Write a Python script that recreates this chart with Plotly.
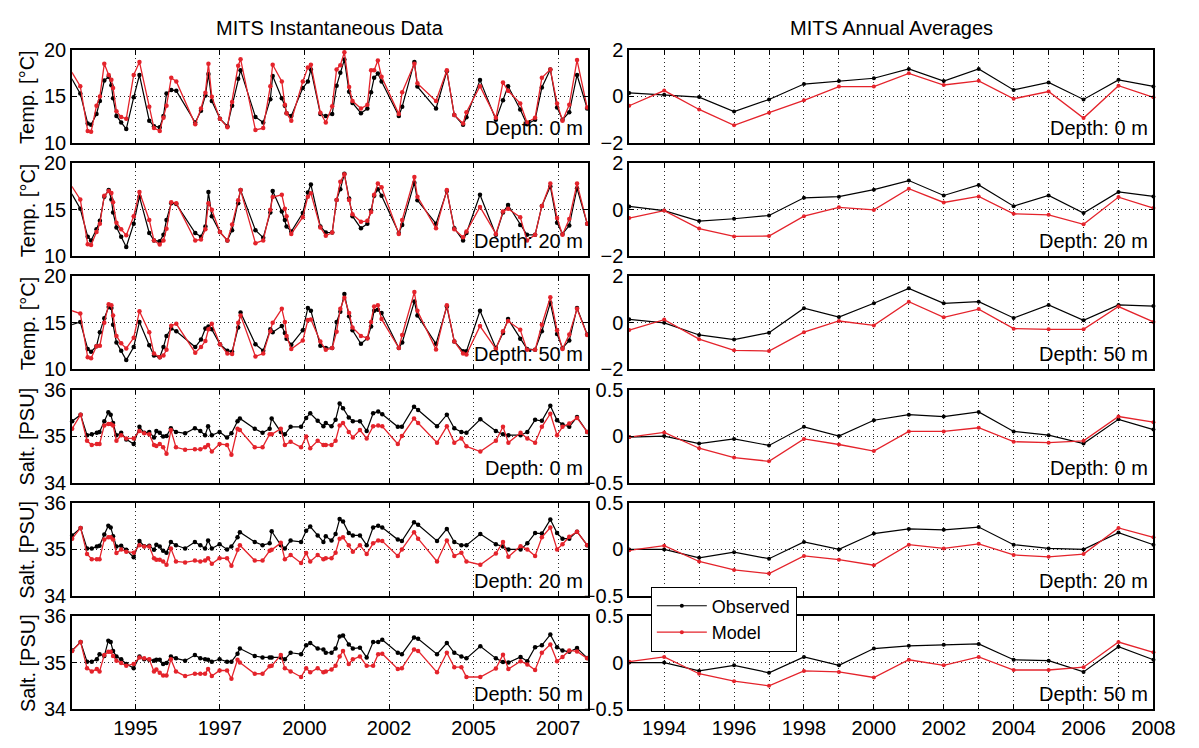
import plotly.graph_objects as go

# ---------------- instantaneous data: temperature ----------------
T_TIME = [1993.12, 1993.37, 1993.59, 1993.69, 1993.85, 1993.95, 1994.08, 1994.21, 1994.29, 1994.34,
          1994.44, 1994.58, 1994.73, 1994.95, 1995.12, 1995.41, 1995.55, 1995.72, 1995.83, 1995.92,
          1996.06, 1996.21, 1996.77, 1996.94, 1997.07, 1997.16, 1997.26, 1997.50, 1997.72, 1997.86,
          1998.04, 1998.11, 1998.55, 1998.78, 1998.99, 1999.06, 1999.33, 1999.42, 1999.47, 1999.61,
          1999.95, 2000.10, 2000.19, 2000.47, 2000.63, 2000.82, 2000.95, 2001.06, 2001.18, 2001.32,
          2001.42, 2001.67, 2001.86, 2001.97, 2002.06, 2002.17, 2002.28, 2002.79, 2002.89, 2003.25,
          2003.34, 2003.89, 2004.21, 2004.43, 2004.69, 2004.79, 2005.19, 2005.66, 2005.87, 2006.02,
          2006.38, 2006.58, 2006.82, 2007.02, 2007.27, 2007.47, 2007.63, 2007.83, 2008.06, 2008.36]

T0_OBS = [16.9, 15.3, 12.1, 11.95, 13.1, 14.5, 16.7, 17.1, 16.2, 14.8,
          12.9, 12.2, 11.5, 14.9, 17.3, 12.4, 11.8, 11.7, 12.9, 15.3,
          15.7, 15.6, 12.2, 13.45, 15.1, 17.4, 14.5, 12.6, 11.8, 14.0,
          16.9, 17.8, 12.8, 12.2, 14.7, 17.2, 14.8, 14.0, 13.2, 12.9,
          15.9, 16.6, 17.9, 13.1, 12.9, 13.1, 16.15, 17.55, 18.95, 15.5,
          14.3, 13.2, 13.7, 15.45, 17.0, 17.45, 16.6, 12.9, 13.9, 18.7,
          16.05, 13.7, 17.7, 13.0, 11.95, 12.75, 16.75, 12.5, 14.6, 16.1,
          13.6, 12.0, 12.5, 15.95, 17.9, 13.8, 12.5, 13.3, 17.3, 13.7]
T0_MOD = [17.6, 16.1, 11.3, 11.2, 14.0, 15.0, 18.5, 17.3, 16.8, 15.9,
          13.4, 12.8, 12.6, 17.3, 18.7, 13.9, 11.6, 11.3, 12.7, 14.0,
          17.0, 16.6, 12.0, 13.7, 15.4, 18.5, 14.95, 12.6, 11.7, 14.4,
          18.3, 19.0, 11.4, 11.6, 16.1, 18.4, 16.6, 14.1, 13.2, 12.4,
          16.6, 18.1, 18.4, 13.25, 12.2, 13.95, 17.9, 18.35, 19.75, 16.0,
          14.5, 13.7, 14.1, 17.8, 17.8, 18.85, 17.1, 13.1, 15.45, 18.5,
          16.4, 14.5, 17.8, 13.0, 12.1, 13.3, 16.1, 12.7, 16.5, 15.6,
          14.25, 12.2, 12.7, 17.0, 17.9, 14.25, 12.4, 14.1, 18.9, 13.8]

T20_OBS = [16.7, 15.1, 12.1, 11.7, 12.9, 13.8, 16.4, 17.1, 16.1, 14.7,
           13.1, 12.1, 11.0, 13.5, 16.4, 12.5, 11.7, 11.6, 12.3, 13.9,
           15.7, 15.6, 12.5, 12.1, 13.2, 16.9, 14.3, 12.6, 11.7, 12.8,
           15.7, 17.1, 12.8, 12.0, 14.7, 17.0, 14.8, 13.9, 13.2, 12.65,
           14.65, 16.85, 17.7, 13.2, 12.55, 12.55, 16.05, 17.2, 18.85, 16.2,
           14.3, 13.0, 13.5, 14.9, 16.5, 17.2, 16.5, 12.5, 13.35, 17.9,
           16.0, 13.5, 17.0, 13.0, 11.7, 12.5, 16.6, 12.3, 14.7, 15.5,
           13.35, 12.3, 12.3, 15.4, 17.5, 13.6, 12.4, 13.3, 17.3, 13.5]
T20_MOD = [17.5, 16.1, 11.3, 11.2, 12.6, 13.5, 16.5, 17.0, 16.8, 15.8,
           13.6, 12.9, 12.25, 14.3, 16.9, 13.9, 11.7, 11.25, 11.7, 12.95,
           15.8, 15.7, 11.7, 11.8, 12.9, 15.7, 15.0, 12.6, 11.7, 13.4,
           16.0, 17.1, 11.4, 11.7, 15.0, 16.35, 16.6, 15.1, 14.3, 12.4,
           14.2, 16.4, 16.75, 13.1, 12.2, 12.55, 16.05, 18.0, 18.8, 16.05,
           14.5, 13.7, 13.8, 14.75, 16.6, 17.8, 17.4, 12.4, 13.9, 18.5,
           16.4, 13.0, 17.1, 12.9, 12.05, 12.65, 15.3, 12.4, 14.8, 15.1,
           14.2, 11.7, 12.3, 15.4, 17.8, 14.1, 12.3, 14.0, 17.8, 13.5]

T50_OBS = [14.8, 15.1, 12.2, 11.9, 12.5, 14.0, 15.5, 16.7, 16.6, 14.8,
           12.9, 12.0, 11.0, 12.4, 15.1, 12.6, 11.5, 11.3, 12.4, 13.6,
           14.4, 14.1, 12.4, 13.2, 14.4, 14.6, 14.3, 12.7, 12.0, 11.9,
           14.5, 16.1, 12.7, 12.0, 14.3, 14.0, 14.65, 13.9, 13.3, 12.65,
           14.2, 16.6, 16.3, 12.55, 12.3, 12.3, 15.1, 16.2, 18.1, 15.7,
           14.2, 12.75, 13.35, 14.6, 16.3, 16.4, 16.05, 12.3, 12.9, 17.3,
           15.8, 12.75, 16.75, 13.0, 11.95, 11.95, 16.3, 12.3, 13.9, 15.4,
           13.3, 12.2, 12.1, 14.1, 17.15, 13.8, 12.3, 13.1, 16.6, 13.75]
T50_MOD = [16.3, 16.0, 11.3, 11.2, 12.5, 12.55, 15.0, 17.0, 16.9, 15.8,
           13.6, 12.8, 12.25, 13.4, 16.25, 14.0, 11.7, 11.3, 11.5, 12.1,
           14.7, 14.9, 11.8, 12.4, 13.05, 14.3, 14.9, 12.7, 11.7, 11.65,
           15.0, 15.8, 11.4, 11.7, 14.1, 15.0, 16.5, 15.1, 13.6, 12.2,
           13.1, 15.3, 15.35, 13.0, 12.1, 12.3, 14.05, 16.5, 17.7, 16.05,
           14.5, 13.6, 13.35, 15.1, 16.75, 16.9, 15.4, 12.3, 13.7, 18.3,
           16.3, 12.15, 16.9, 13.0, 11.7, 11.6, 14.65, 12.2, 14.1, 15.2,
           14.25, 12.1, 12.1, 14.8, 17.75, 14.2, 12.2, 13.75, 16.5, 13.7]

# ---------------- instantaneous data: salinity ----------------
S_TIME = [1993.13, 1993.38, 1993.57, 1993.71, 1993.86, 1993.94, 1994.08, 1994.20, 1994.27, 1994.34,
          1994.44, 1994.58, 1994.73, 1994.95, 1995.12, 1995.26, 1995.41, 1995.55, 1995.62, 1995.72,
          1995.82, 1995.92, 1996.05, 1996.20, 1996.47, 1996.76, 1996.92, 1997.06, 1997.15, 1997.26,
          1997.49, 1997.71, 1997.84, 1998.02, 1998.09, 1998.53, 1998.76, 1998.97, 1999.03, 1999.30,
          1999.42, 1999.59, 1999.90, 2000.05, 2000.17, 2000.39, 2000.56, 2000.63, 2000.80, 2000.92,
          2001.04, 2001.14, 2001.31, 2001.43, 2001.64, 2001.84, 2002.03, 2002.18, 2002.30, 2002.76,
          2002.88, 2003.24, 2003.36, 2003.92, 2004.21, 2004.43, 2004.64, 2004.79, 2005.20, 2005.66,
          2005.87, 2006.03, 2006.39, 2006.59, 2006.82, 2007.02, 2007.27, 2007.47, 2007.63, 2007.83,
          2008.06, 2008.36]

S0_OBS = [35.32, 35.46, 35.02, 35.04, 35.07, 35.09, 35.32, 35.51, 35.46, 35.28,
          35.02, 35.07, 34.93, 34.83, 35.20, 35.07, 35.09, 34.97, 35.11, 35.07,
          34.99, 35.00, 35.17, 35.09, 35.06, 35.17, 35.11, 35.02, 35.21, 35.02,
          35.09, 34.97, 35.06, 35.32, 35.38, 35.16, 35.07, 35.16, 35.38, 35.09,
          35.04, 35.20, 35.20, 35.39, 35.49, 35.33, 35.21, 35.28, 35.21, 35.35,
          35.70, 35.60, 35.40, 35.32, 35.32, 35.11, 35.49, 35.53, 35.47, 35.20,
          35.20, 35.63, 35.56, 35.21, 35.46, 35.17, 35.09, 35.07, 35.36, 35.11,
          35.04, 35.02, 35.02, 35.09, 35.35, 35.33, 35.65, 35.34, 35.25, 35.20,
          35.41, 35.09]
S0_MOD = [35.16, 35.46, 34.90, 34.81, 34.83, 34.83, 35.23, 35.26, 35.26, 35.23,
          34.90, 35.02, 34.95, 34.95, 35.11, 35.06, 35.04, 34.81, 34.79, 34.83,
          34.76, 34.62, 35.13, 34.76, 34.71, 34.72, 34.72, 34.76, 34.81, 34.67,
          34.83, 34.81, 34.60, 35.16, 35.13, 34.76, 34.76, 35.04, 35.04, 35.16,
          34.81, 34.88, 34.76, 34.99, 34.74, 34.90, 34.81, 34.81, 34.81, 34.90,
          35.23, 35.28, 35.09, 34.97, 35.13, 34.95, 35.21, 35.23, 35.21, 34.83,
          35.00, 35.38, 35.28, 34.86, 35.21, 34.86, 34.95, 34.78, 34.67, 34.90,
          35.20, 34.86, 35.07, 34.95, 34.86, 35.20, 35.48, 35.02, 35.20, 35.27,
          35.39, 35.09]

S20_OBS = [35.30, 35.46, 35.02, 35.02, 35.06, 35.08, 35.32, 35.51, 35.47, 35.28,
           35.06, 35.08, 34.99, 34.83, 35.18, 35.07, 35.08, 34.99, 35.10, 35.06,
           34.97, 34.93, 35.16, 35.09, 35.02, 35.16, 35.09, 35.02, 35.19, 35.02,
           35.11, 35.00, 35.06, 35.26, 35.37, 35.16, 35.09, 35.13, 35.39, 35.09,
           35.02, 35.19, 35.16, 35.40, 35.49, 35.30, 35.16, 35.28, 35.19, 35.33,
           35.65, 35.60, 35.35, 35.30, 35.30, 35.09, 35.47, 35.51, 35.47, 35.21,
           35.18, 35.58, 35.53, 35.18, 35.44, 35.16, 35.09, 35.09, 35.33, 35.11,
           35.06, 35.00, 35.00, 35.13, 35.35, 35.34, 35.64, 35.35, 35.23, 35.23,
           35.38, 35.09]
S20_MOD = [35.23, 35.46, 34.90, 34.79, 34.79, 34.79, 35.21, 35.26, 35.26, 35.21,
           34.92, 35.00, 34.95, 34.93, 35.09, 35.06, 35.06, 34.81, 34.78, 34.78,
           34.74, 34.67, 35.02, 34.74, 34.72, 34.76, 34.74, 34.76, 34.81, 34.69,
           34.81, 34.81, 34.65, 34.99, 35.09, 34.76, 34.76, 34.97, 34.99, 35.14,
           34.79, 34.88, 34.71, 34.92, 34.74, 34.88, 34.79, 34.81, 34.81, 34.93,
           35.23, 35.26, 35.09, 34.95, 35.09, 34.90, 35.13, 35.19, 35.18, 34.86,
           35.00, 35.37, 35.23, 34.74, 35.19, 34.86, 34.93, 34.74, 34.67, 34.91,
           35.16, 34.84, 35.07, 35.00, 34.86, 35.26, 35.47, 35.00, 35.11, 35.27,
           35.38, 35.09]

S50_OBS = [35.26, 35.44, 35.02, 35.02, 35.07, 35.18, 35.14, 35.47, 35.44, 35.25,
           35.13, 35.07, 34.97, 34.88, 35.13, 35.07, 35.06, 35.04, 35.06, 35.06,
           34.97, 34.99, 35.13, 35.09, 35.04, 35.16, 35.09, 35.07, 35.06, 35.02,
           35.07, 35.02, 35.02, 35.19, 35.30, 35.14, 35.11, 35.11, 35.11, 35.11,
           35.07, 35.21, 35.18, 35.37, 35.42, 35.30, 35.28, 35.21, 35.21, 35.30,
           35.56, 35.58, 35.39, 35.30, 35.32, 35.11, 35.44, 35.44, 35.49, 35.21,
           35.18, 35.54, 35.51, 35.18, 35.42, 35.21, 35.13, 35.09, 35.35, 35.09,
           35.01, 35.00, 35.12, 35.03, 35.33, 35.37, 35.60, 35.33, 35.26, 35.23,
           35.31, 35.10]
S50_MOD = [35.25, 35.44, 34.88, 34.81, 34.86, 34.81, 35.16, 35.23, 35.23, 35.14,
           35.04, 34.99, 34.93, 34.97, 35.11, 35.09, 35.07, 34.81, 34.85, 34.78,
           34.72, 34.72, 35.07, 34.81, 34.71, 34.76, 34.76, 34.76, 34.86, 34.71,
           34.83, 34.83, 34.65, 35.06, 35.00, 34.76, 34.76, 34.92, 34.93, 35.16,
           34.88, 34.81, 34.69, 34.88, 34.79, 34.88, 34.79, 34.81, 34.85, 34.93,
           35.13, 35.25, 34.97, 35.07, 35.13, 34.93, 34.93, 35.18, 35.19, 34.86,
           34.88, 35.28, 35.25, 34.79, 35.21, 34.90, 34.90, 34.69, 34.69, 34.87,
           35.17, 34.86, 35.03, 34.96, 34.84, 35.21, 35.39, 35.03, 35.12, 35.26,
           35.24, 35.09]

# ---------------- annual average anomalies ----------------
YEARS = list(range(1993, 2009))
AT0_OBS = [0.15, 0.07, -0.03, -0.65, -0.13, 0.53, 0.66, 0.78, 1.18, 0.66, 1.18, 0.28, 0.60, -0.13, 0.71, 0.43]
AT0_MOD = [-0.40, 0.25, -0.56, -1.24, -0.70, -0.17, 0.42, 0.42, 0.99, 0.49, 0.67, -0.10, 0.21, -0.93, 0.46, -0.04]
AT20_OBS = [0.14, -0.04, -0.49, -0.39, -0.25, 0.51, 0.56, 0.86, 1.25, 0.61, 1.06, 0.15, 0.61, -0.14, 0.76, 0.57]
AT20_MOD = [-0.36, -0.04, -0.81, -1.15, -1.13, -0.28, 0.10, -0.01, 0.90, 0.31, 0.57, -0.18, -0.22, -0.63, 0.54, 0.07]
AT50_OBS = [0.15, 0.00, -0.52, -0.72, -0.42, 0.63, 0.25, 0.84, 1.48, 0.84, 0.91, 0.21, 0.77, 0.11, 0.77, 0.72]
AT50_MOD = [-0.31, 0.14, -0.70, -1.18, -1.21, -0.40, 0.08, -0.11, 0.91, 0.24, 0.59, -0.25, -0.28, -0.28, 0.70, 0.04]
AS0_OBS = [-0.01, 0.00, -0.08, -0.03, -0.10, 0.10, 0.00, 0.17, 0.23, 0.21, 0.26, 0.05, 0.01, -0.08, 0.18, 0.07]
AS0_MOD = [-0.01, 0.04, -0.13, -0.23, -0.27, -0.03, -0.09, -0.16, 0.05, 0.05, 0.09, -0.06, -0.07, -0.05, 0.21, 0.15]
AS20_OBS = [0.00, 0.00, -0.09, -0.03, -0.10, 0.08, 0.00, 0.17, 0.22, 0.21, 0.24, 0.05, 0.01, 0.00, 0.18, 0.05]
AS20_MOD = [-0.01, 0.04, -0.13, -0.22, -0.26, -0.07, -0.11, -0.17, 0.05, 0.01, 0.06, -0.06, -0.08, -0.05, 0.23, 0.13]
AS50_OBS = [0.00, 0.00, -0.09, -0.03, -0.11, 0.06, -0.03, 0.15, 0.18, 0.19, 0.20, 0.03, 0.02, -0.10, 0.17, 0.03]
AS50_MOD = [0.01, 0.06, -0.12, -0.20, -0.25, -0.09, -0.10, -0.16, 0.03, -0.03, 0.06, -0.08, -0.08, -0.05, 0.22, 0.11]

# ---------------- axis labels ----------------
LEFT_TICKS = [1995, 1997.5, 2000, 2002.5, 2005, 2007.5]
LEFT_TICKTEXT = ["1995", "1997", "2000", "2002", "2005", "2007"]
DEPTHS = ["Depth: 0 m", "Depth: 20 m", "Depth: 50 m"]

# ---------------- layout geometry (pixels) ----------------
W, H = 1199, 748
LEFT_PX = (73.5, 598.5)
RIGHT_PX = (641.0, 1175.0)
ROW_TOP = [40.0, 156.7, 273.3, 390.0, 506.7, 623.3]
ROW_H = 96.0

BLACK = "#000000"
RED = "#e4232b"
FONT = "Liberation Sans, Arial, Helvetica, sans-serif"
FS = 20

rows = [
    dict(lt=T_TIME, lo=T0_OBS, lm=T0_MOD, ro=AT0_OBS, rm=AT0_MOD, ylab="Temp. [°C]",
         lr=[10, 20], lt_v=[10, 15, 20], rr=[-2, 2], rt_v=[-2, 0, 2], d=DEPTHS[0]),
    dict(lt=T_TIME, lo=T20_OBS, lm=T20_MOD, ro=AT20_OBS, rm=AT20_MOD, ylab="Temp. [°C]",
         lr=[10, 20], lt_v=[10, 15, 20], rr=[-2, 2], rt_v=[-2, 0, 2], d=DEPTHS[1]),
    dict(lt=T_TIME, lo=T50_OBS, lm=T50_MOD, ro=AT50_OBS, rm=AT50_MOD, ylab="Temp. [°C]",
         lr=[10, 20], lt_v=[10, 15, 20], rr=[-2, 2], rt_v=[-2, 0, 2], d=DEPTHS[2]),
    dict(lt=S_TIME, lo=S0_OBS, lm=S0_MOD, ro=AS0_OBS, rm=AS0_MOD, ylab="Salt. [PSU]",
         lr=[34, 36], lt_v=[34, 35, 36], rr=[-0.5, 0.5], rt_v=[-0.5, 0, 0.5], d=DEPTHS[0]),
    dict(lt=S_TIME, lo=S20_OBS, lm=S20_MOD, ro=AS20_OBS, rm=AS20_MOD, ylab="Salt. [PSU]",
         lr=[34, 36], lt_v=[34, 35, 36], rr=[-0.5, 0.5], rt_v=[-0.5, 0, 0.5], d=DEPTHS[1]),
    dict(lt=S_TIME, lo=S50_OBS, lm=S50_MOD, ro=AS50_OBS, rm=AS50_MOD, ylab="Salt. [PSU]",
         lr=[34, 36], lt_v=[34, 35, 36], rr=[-0.5, 0.5], rt_v=[-0.5, 0, 0.5], d=DEPTHS[2]),
]


def xdom(px):
    return [px[0] / W, px[1] / W]


def ydom(r):
    return [1 - (ROW_TOP[r] + ROW_H) / H, 1 - ROW_TOP[r] / H]


common_axis = dict(
    showline=True, linecolor=BLACK, linewidth=1.8, mirror="ticks",
    ticks="inside", ticklen=5, tickwidth=1, tickcolor=BLACK,
    showgrid=True, gridcolor="#2a2a2a", gridwidth=1, griddash="1px,3px",
    zeroline=False, tickfont=dict(family=FONT, size=FS, color=BLACK),
)

fig = go.Figure()
layout = {}
annotations = []

for r, row in enumerate(rows):
    for c in range(2):
        n = 2 * r + c + 1
        xa = "x" if n == 1 else f"x{n}"
        ya = "y" if n == 1 else f"y{n}"
        if c == 0:
            xs, obs, mod = row["lt"], row["lo"], row["lm"]
            msize = 4.5
        else:
            xs, obs, mod = YEARS, row["ro"], row["rm"]
            msize = 4
        legend_here = (r == 4 and c == 1)
        fig.add_trace(go.Scatter(
            x=xs, y=obs, xaxis=xa, yaxis=ya, mode="lines+markers", name="Observed",
            line=dict(color=BLACK, width=1.2), marker=dict(color=BLACK, size=msize),
            showlegend=legend_here, legendgroup="obs", cliponaxis=False))
        fig.add_trace(go.Scatter(
            x=xs, y=mod, xaxis=xa, yaxis=ya, mode="lines+markers", name="Model",
            line=dict(color=RED, width=1.3), marker=dict(color=RED, size=msize),
            showlegend=legend_here, legendgroup="mod", cliponaxis=False))

        xkey = "xaxis" if n == 1 else f"xaxis{n}"
        ykey = "yaxis" if n == 1 else f"yaxis{n}"
        if c == 0:
            xdef = dict(common_axis, domain=xdom(LEFT_PX), range=[1993.13, 2008.37],
                        tickmode="array", tickvals=LEFT_TICKS, ticktext=LEFT_TICKTEXT)
            ydef = dict(common_axis, domain=ydom(r), range=row["lr"],
                        tickmode="array", tickvals=row["lt_v"])
        else:
            xdef = dict(common_axis, domain=xdom(RIGHT_PX), range=[1993, 2008],
                        tickmode="array", tickvals=YEARS,
                        ticktext=[str(y) if y % 2 == 0 else "" for y in YEARS])
            ydef = dict(common_axis, domain=ydom(r), range=row["rr"],
                        tickmode="array", tickvals=row["rt_v"],
                        ticktext=[("\u2212" + str(abs(v)) if v < 0 else str(v)) for v in row["rt_v"]])
        xdef.update(anchor=ya, showticklabels=(r == 5))
        ydef.update(anchor=xa)
        layout[xkey] = xdef
        layout[ykey] = ydef

        annotations.append(dict(
            text=row["d"], xref=f"{xa} domain", yref=f"{ya} domain", x=1, y=0,
            xanchor="right", yanchor="bottom", xshift=-3, yshift=2, showarrow=False,
            font=dict(family=FONT, size=20, color=BLACK)))

    annotations.append(dict(
        text=row["ylab"], xref="paper", yref=f"{'y' if r == 0 else 'y' + str(2 * r + 1)} domain",
        x=28 / W, y=0.5, xanchor="center", yanchor="middle", textangle=-90,
        showarrow=False, font=dict(family=FONT, size=20, color=BLACK)))

annotations.append(dict(text="MITS Instantaneous Data", xref="paper", yref="paper",
                        x=sum(LEFT_PX) / 2 / W, y=1 - 18 / H, xanchor="center", yanchor="middle",
                        showarrow=False, font=dict(family=FONT, size=20, color=BLACK)))
annotations.append(dict(text="MITS Annual Averages", xref="paper", yref="paper",
                        x=sum(RIGHT_PX) / 2 / W, y=1 - 18 / H, xanchor="center", yanchor="middle",
                        showarrow=False, font=dict(family=FONT, size=20, color=BLACK)))

fig.update_layout(
    width=W, height=H, margin=dict(l=0, r=0, t=0, b=0),
    paper_bgcolor="white", plot_bgcolor="white",
    font=dict(family=FONT, size=FS, color=BLACK),
    annotations=annotations,
    legend=dict(x=663 / W, y=1 - 593 / H, xanchor="left", yanchor="top",
                bgcolor="white", bordercolor=BLACK, borderwidth=1, itemwidth=50,
                font=dict(family=FONT, size=18, color=BLACK), tracegroupgap=0),
    showlegend=True,
    **layout,
)

fig.write_html("out.html")
